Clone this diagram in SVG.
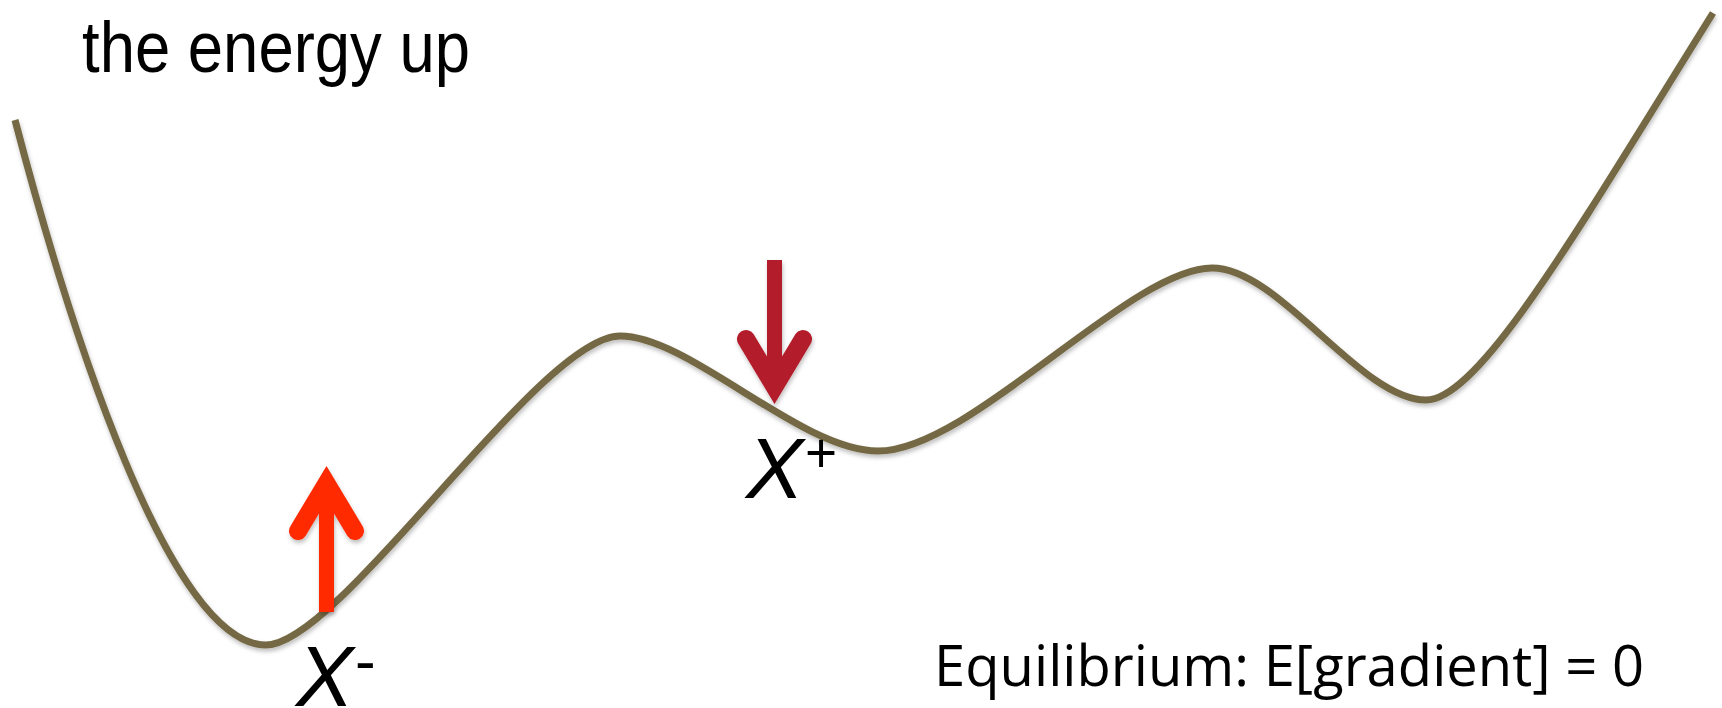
<svg xmlns="http://www.w3.org/2000/svg" width="1722" height="708" viewBox="0 0 1722 708">
  <style>
    .curve { fill: none; stroke: #756944; stroke-width: 7; stroke-linecap: butt; }
    .title { font-family: "Liberation Sans", Arial, sans-serif; font-size: 72px; fill: #000; }
    .var { font-family: "Liberation Sans", Arial, sans-serif; font-size: 86px; font-style: italic; fill: #000; }
    .sup { font-family: "Liberation Sans", Arial, sans-serif; font-size: 55px; fill: #000; }
    .eq { font-family: "Open Sans", "Liberation Sans", sans-serif; font-size: 56px; fill: #000; }
  </style>
  <defs>
    <filter id="shadow" x="-10%" y="-10%" width="120%" height="130%">
      <feDropShadow dx="1" dy="3" stdDeviation="2" flood-color="#000" flood-opacity="0.25"/>
    </filter>
  </defs>
  <rect width="1722" height="708" fill="#fff"/>

  <g id="title">
    <text class="title" x="82" y="72" textLength="388" lengthAdjust="spacingAndGlyphs">the energy up</text>
  </g>

  <g id="energy-curve" filter="url(#shadow)">
    <path class="curve" d="M15,120 C70,330 170,645 266,645 C340,645 540,336 620,336 C690,336 800,451 878,451 C970,451 1130,268 1212,268 C1280,268 1360,400 1426,400 C1480,400 1580,226 1713,13"/>
  </g>

  <g id="arrow-up" filter="url(#shadow)">
    <path fill="#FF2A00" d="M326.5,466 L362.5,526 A9,9 0 0 1 347.5,536 L334,513.5 L334,612 L319,612 L319,513.5 L305.5,536 A9,9 0 0 1 290.5,526 Z"/>
  </g>

  <g id="arrow-down" filter="url(#shadow)">
    <path fill="#B31B2A" d="M774.5,404 L810.5,344 A9,9 0 0 0 795.5,334 L782,356.5 L782,260 L767,260 L767,356.5 L753.5,334 A9,9 0 0 0 738.5,344 Z"/>
  </g>

  <g id="label-xplus">
    <text class="var" x="746" y="498">X</text>
    <text class="sup" x="805" y="472">+</text>
  </g>

  <g id="label-xminus">
    <text class="var" x="296" y="706">X</text>
    <text class="sup" x="355" y="682" style="font-size:62px">-</text>
  </g>

  <g id="equilibrium">
    <text class="eq" x="934" y="686" textLength="710" lengthAdjust="spacingAndGlyphs">Equilibrium: E[gradient] = 0</text>
  </g>
</svg>
